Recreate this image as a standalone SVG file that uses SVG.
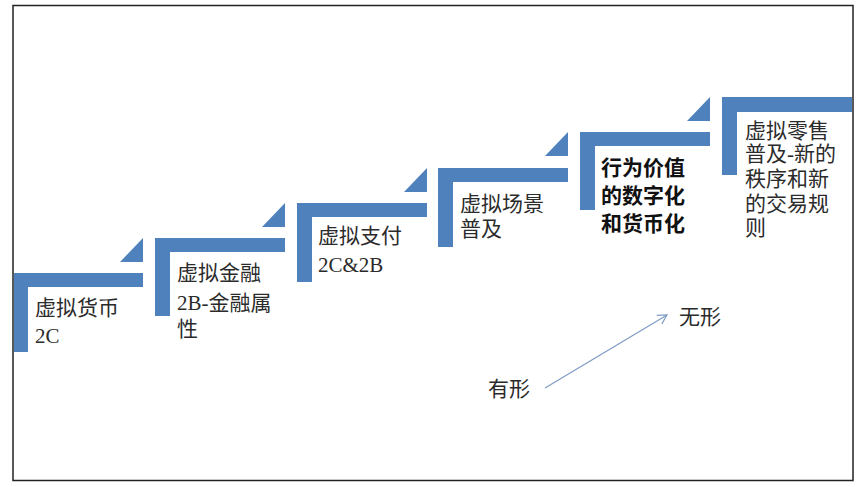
<svg xmlns="http://www.w3.org/2000/svg" width="864" height="487" viewBox="0 0 864 487">
  <style>
    .bar { fill: #4f81bd; }
    .lbl { font-family: "Liberation Serif", "Noto Sans CJK SC", serif; font-size: 21px; fill: #2b2b2b; }
    .bold { font-family: "Noto Sans CJK SC", "Liberation Sans", sans-serif; font-size: 21px; font-weight: bold; fill: #111; }
    .side { font-family: "Noto Sans CJK SC", "Liberation Sans", sans-serif; font-size: 21px; fill: #2b2b2b; }
  </style>
  <defs>
    <marker id="arr" markerWidth="12" markerHeight="12" refX="10" refY="6" orient="auto" markerUnits="userSpaceOnUse">
      <path d="M1,1 L10,6 L1,11" fill="none" stroke="#7f9cc4" stroke-width="1.2"/>
    </marker>
  </defs>
  <rect x="0" y="0" width="864" height="487" fill="#ffffff"/>
  <rect x="13" y="5.5" width="840" height="475" fill="none" stroke="#222" stroke-width="1.5"/>

  <g id="step1">
    <rect class="bar" x="14" y="273" width="129" height="14"/>
    <rect class="bar" x="14" y="273" width="14" height="79"/>
    <polygon class="bar" points="120,262 143,238 143,262"/>
    <text class="lbl" x="35" y="315">虚拟货币</text>
    <text class="lbl" x="35" y="343">2C</text>
  </g>
  <g id="step2">
    <rect class="bar" x="155" y="238" width="130" height="14"/>
    <rect class="bar" x="155" y="238" width="15" height="78"/>
    <polygon class="bar" points="262,227 285,203 285,227"/>
    <text class="lbl" x="177" y="280">虚拟金融</text>
    <text class="lbl" x="177" y="310">2B-金融属</text>
    <text class="lbl" x="177" y="336">性</text>
  </g>
  <g id="step3">
    <rect class="bar" x="297" y="203" width="130" height="14"/>
    <rect class="bar" x="297" y="203" width="15" height="79"/>
    <polygon class="bar" points="404,192 427,168 427,192"/>
    <text class="lbl" x="318" y="243">虚拟支付</text>
    <text class="lbl" x="318" y="272">2C&amp;2B</text>
  </g>
  <g id="step4">
    <rect class="bar" x="438" y="168" width="130" height="14"/>
    <rect class="bar" x="438" y="168" width="15" height="79"/>
    <polygon class="bar" points="545,156 568,132 568,156"/>
    <text class="lbl" x="460" y="211">虚拟场景</text>
    <text class="lbl" x="460" y="236">普及</text>
  </g>
  <g id="step5">
    <rect class="bar" x="580" y="132" width="130" height="14"/>
    <rect class="bar" x="580" y="132" width="15" height="78"/>
    <polygon class="bar" points="687,121 710,97 710,121"/>
    <text class="bold" x="601" y="175">行为价值</text>
    <text class="bold" x="601" y="203">的数字化</text>
    <text class="bold" x="601" y="231">和货币化</text>
  </g>
  <g id="step6">
    <rect class="bar" x="722" y="97" width="130" height="15"/>
    <rect class="bar" x="722" y="97" width="15" height="78"/>
    <text class="lbl" x="745" y="138">虚拟零售</text>
    <text class="lbl" x="745" y="161">普及-新的</text>
    <text class="lbl" x="745" y="186">秩序和新</text>
    <text class="lbl" x="745" y="211">的交易规</text>
    <text class="lbl" x="745" y="235">则</text>
  </g>
  <g id="tangible">
    <text class="side" x="488" y="396">有形</text>
  </g>
  <g id="intangible">
    <text class="side" x="679" y="324">无形</text>
  </g>
  <g id="connectors">
    <line x1="545" y1="388" x2="667" y2="315" stroke="#7f9cc4" stroke-width="1.2" marker-end="url(#arr)"/>
  </g>
</svg>
